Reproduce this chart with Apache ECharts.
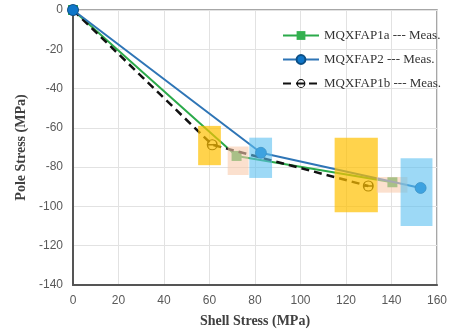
<!DOCTYPE html>
<html>
<head>
<meta charset="utf-8">
<script src="https://cdn.jsdelivr.net/npm/echarts@6/dist/echarts.min.js"></script>
<style>html,body{margin:0;padding:0;background:#fff}#c{width:455px;height:335px}</style>
</head>
<body>
<div id="c"></div>
<script>
// Tick labels
const xTicks = [0, 20, 40, 60, 80, 100, 120, 140, 160];
const yTicks = [0, -20, -40, -60, -80, -100, -120, -140];

// Series names
const names = ['MQXFAP1a --- Meas.', 'MQXFAP2 --- Meas.', 'MQXFAP1b --- Meas.'];

// Series values [shell stress, pole stress]
const ap1a = [[0, 0], [71.9, -74.3], [140.4, -87.7]];
const ap2  = [[0, 0], [82.6, -72.7], [152.8, -90.6]];
const ap1b = [[0, 0], [61.2, -68.6], [129.8, -89.6]];

// Uncertainty boxes [xMin, xMax, yMin, yMax]
const yellowBoxes = [[55, 65, -59, -79], [115, 134, -65, -103]];
const peachBoxes  = [[68, 77.2, -69.5, -84], [133.5, 147, -85, -93]];
const blueBoxes   = [[77.5, 87.5, -65, -85.5], [144, 158, -75.5, -110]];

const thetaPath = 'path://M10 0A10 10 0 1 1 10 20A10 10 0 1 1 10 0ZM17 8.8A7 7 0 0 0 3 8.8ZM3 11.2A7 7 0 0 0 17 11.2Z';

function boxSeries(data, color, op) {
  return {
    type: 'custom', z: 5, silent: true,
    data: data,
    encode: { x: [0, 1], y: [2, 3] },
    renderItem: function (params, api) {
      const a = api.coord([api.value(0), api.value(2)]);
      const b = api.coord([api.value(1), api.value(3)]);
      return {
        type: 'rect',
        shape: { x: Math.min(a[0], b[0]), y: Math.min(a[1], b[1]), width: Math.abs(b[0] - a[0]), height: Math.abs(b[1] - a[1]) },
        style: { fill: color, opacity: op }
      };
    }
  };
}

const chart = echarts.init(document.getElementById('c'), null, { renderer: 'canvas' });
chart.setOption({
  animation: false,
  backgroundColor: '#fff',
  grid: { left: 73, top: 10, right: 18, bottom: 50, show: true, borderColor: '#8a8a8a', borderWidth: 1.5 },
  legend: {
    orient: 'vertical', left: 277, top: 24, itemWidth: 36, itemHeight: 11, itemGap: 11,
    data: names,
    textStyle: { fontFamily: 'Liberation Serif', fontSize: 13, color: '#333' }
  },
  xAxis: {
    type: 'value', min: xTicks[0], max: xTicks[xTicks.length - 1], interval: 20,
    name: 'Shell Stress (MPa)', nameLocation: 'middle', nameGap: 29,
    nameTextStyle: { fontFamily: 'Liberation Serif', fontWeight: 'bold', fontSize: 14, color: '#404040' },
    axisLine: { onZero: false, lineStyle: { color: '#555', width: 2 } },
    axisTick: { show: false },
    axisLabel: { margin: 10, color: '#595959', fontSize: 12, fontFamily: 'Liberation Sans' },
    splitLine: { lineStyle: { color: '#e2e2e2' } }
  },
  yAxis: {
    type: 'value', min: yTicks[yTicks.length - 1], max: yTicks[0], interval: 20,
    name: 'Pole Stress (MPa)', nameLocation: 'middle', nameGap: 38,
    nameTextStyle: { fontFamily: 'Liberation Serif', fontWeight: 'bold', fontSize: 14, color: '#404040' },
    axisLine: { show: true, onZero: false, lineStyle: { color: '#555', width: 2 } },
    axisTick: { show: false },
    axisLabel: { margin: 10, color: '#595959', fontSize: 12, fontFamily: 'Liberation Sans' },
    splitLine: { lineStyle: { color: '#e2e2e2' } }
  },
  series: [
    { name: names[0], type: 'line', data: ap1a, z: 2, symbol: 'rect', symbolSize: 10,
      lineStyle: { color: '#2BAA4A', width: 2 }, itemStyle: { color: '#33B04F' } },
    { name: names[2], type: 'line', data: ap1b, z: 3, symbol: thetaPath, symbolSize: 11,
      lineStyle: { color: '#111', width: 2.5, type: [8, 5] }, itemStyle: { color: '#111' } },
    { name: names[1], type: 'line', data: ap2, z: 4, symbol: 'circle', symbolSize: 11,
      lineStyle: { color: '#2E75B6', width: 2 }, itemStyle: { color: '#0F76C9', borderColor: '#0b4f86', borderWidth: 0.8 } },
    boxSeries(yellowBoxes, '#FFC000', 0.7),
    boxSeries(peachBoxes, '#F8CBAD', 0.6),
    boxSeries(blueBoxes, '#5BC0F0', 0.6)
  ]
});
</script>
</body>
</html>
